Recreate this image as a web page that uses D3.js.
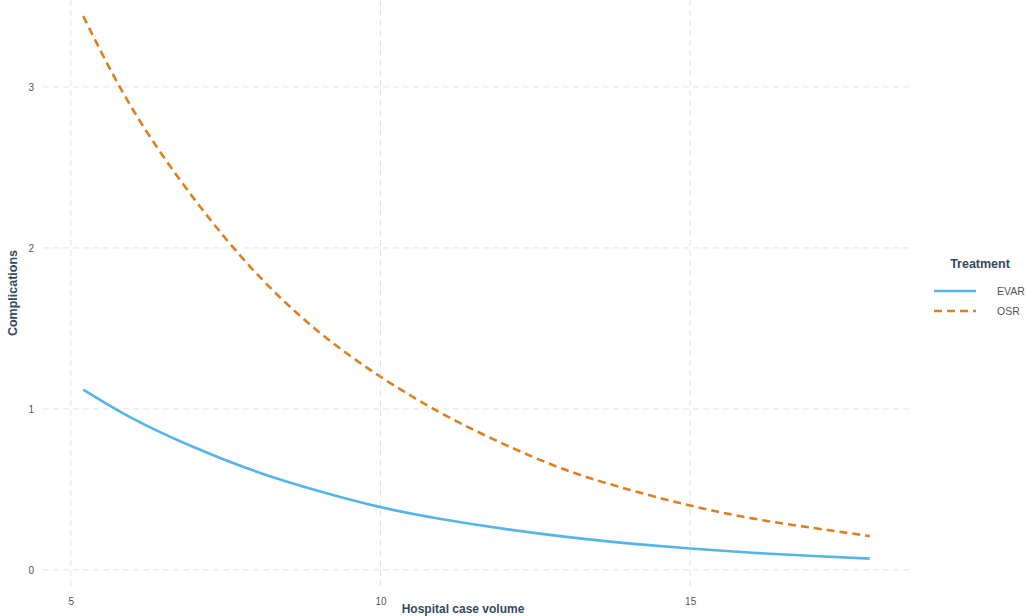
<!DOCTYPE html>
<html>
<head>
<meta charset="utf-8">
<script src="https://cdn.jsdelivr.net/npm/d3@7"></script>
<style>
  body { margin: 0; background: #fff; }
  svg { display: block; font-family: "Liberation Sans", Arial, sans-serif; }
</style>
</head>
<body>
<div id="chart"></div>
<script>
// data
const volume = [5.2, 6, 7, 8, 9, 10, 11, 12, 13, 14, 15, 16, 17, 17.9];
const evar = [1.12, 0.94, 0.76, 0.61, 0.49, 0.39, 0.315, 0.255, 0.205, 0.165, 0.133, 0.107, 0.086, 0.07];
const osr = [3.44, 2.86, 2.30, 1.84, 1.48, 1.20, 0.97, 0.78, 0.62, 0.50, 0.40, 0.32, 0.26, 0.21];
const xTicks = [5, 10, 15];
const yTicks = [0, 1, 2, 3];
const treatments = ["EVAR", "OSR"];

const w = 1026, h = 616;
const colors = {EVAR: "#56B4E9", OSR: "#E07F1F"};
const dashes = {EVAR: null, OSR: "8,5"};
const series = {EVAR: evar, OSR: osr};

const svg = d3.select("#chart").append("svg")
    .attr("width", w)
    .attr("height", h);

const x = d3.scaleLinear().domain([4.55, 18.55]).range([43, 910]);
const y = d3.scaleLinear().domain([-0.1, 3.54]).range([586, 0]);

// gridlines
const grid = svg.append("g").attr("class", "grid")
    .style("stroke", "#e3e3e3")
    .style("stroke-width", 1)
    .style("stroke-dasharray", "6,4");
grid.selectAll("line.gx").data(xTicks).join("line").attr("class", "gx")
    .attr("x1", d => x(d)).attr("x2", d => x(d))
    .attr("y1", y.range()[1]).attr("y2", y.range()[0]);
grid.selectAll("line.gy").data(yTicks).join("line").attr("class", "gy")
    .attr("x1", x.range()[0]).attr("x2", x.range()[1])
    .attr("y1", d => y(d)).attr("y2", d => y(d));

// axis_x
const axisX = svg.append("g").attr("class", "axis_x")
    .attr("transform", `translate(0, ${y.range()[0]})`)
    .call(d3.axisBottom(x).tickValues(xTicks).tickFormat(d3.format("d")).tickSize(0).tickPadding(12));
axisX.select(".domain").remove();
axisX.selectAll("text").style("font-size", "10px").style("fill", "#555");
axisX.append("text")
    .text("Hospital case volume")
    .attr("transform", `translate(463, 27)`)
    .style("text-anchor", "middle")
    .style("font-size", "12px")
    .style("font-weight", "bold")
    .style("fill", "#34495e");

// axis_y
const axisY = svg.append("g").attr("class", "axis_y")
    .attr("transform", `translate(${x.range()[0]}, 0)`)
    .call(d3.axisLeft(y).tickValues(yTicks).tickFormat(d3.format("d")).tickSize(0).tickPadding(9));
axisY.select(".domain").remove();
axisY.selectAll("text").style("font-size", "10px").style("fill", "#555");
axisY.append("text")
    .text("Complications")
    .attr("transform", `translate(-26, ${(y.range()[0] + y.range()[1]) / 2}) rotate(-90)`)
    .style("text-anchor", "middle")
    .style("font-size", "12.5px")
    .style("font-weight", "bold")
    .style("fill", "#34495e");

// lines
const line = d3.line()
    .x((d, i) => x(volume[i]))
    .y(d => y(d))
    .curve(d3.curveNatural);
svg.append("g").attr("class", "lines")
    .selectAll("path").data(treatments).join("path")
    .attr("d", t => line(series[t]))
    .attr("fill", "none")
    .attr("stroke", t => colors[t])
    .attr("stroke-width", 2.6)
    .attr("stroke-dasharray", t => dashes[t]);

// legend
const legend = svg.append("g").attr("class", "legend")
    .attr("transform", "translate(934, 0)");
legend.append("text")
    .text("Treatment")
    .attr("x", 46).attr("y", 268)
    .style("text-anchor", "middle")
    .style("font-size", "12.5px")
    .style("font-weight", "bold")
    .style("fill", "#34495e");
const item = legend.selectAll("g.item").data(treatments).join("g").attr("class", "item")
    .attr("transform", (d, i) => `translate(0, ${291 + i * 20})`);
item.append("line")
    .attr("x1", 0).attr("x2", 42)
    .attr("stroke", t => colors[t])
    .attr("stroke-width", 2.6)
    .attr("stroke-dasharray", t => dashes[t]);
item.append("text")
    .text(t => t)
    .attr("x", 63).attr("y", 4)
    .style("font-size", "10.5px")
    .style("fill", "#555");
</script>
</body>
</html>
